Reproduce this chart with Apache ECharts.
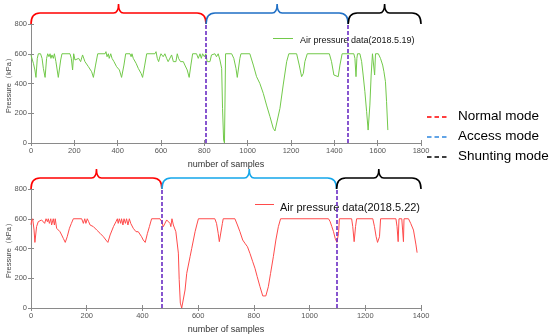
<!DOCTYPE html>
<html><head><meta charset="utf-8">
<script src="https://cdn.jsdelivr.net/npm/echarts@6/dist/echarts.min.js"></script>
<style>html,body{margin:0;padding:0;background:#fff}#c{width:550px;height:336px}</style>
</head><body><div id="c"></div>
<script>
// ---- Data: top chart (2018.5.19) ----
const samples1 = [0,3,11,18,23,29,34,44,51,57,65,72,77,83,88,92,97,103,108,115,126,137,143,180,186,192,197,203,211,220,229,238,249,265,280,288,298,308,342,346,351,357,361,368,374,383,395,408,418,429,437,457,462,466,472,485,495,508,515,525,534,572,577,583,589,595,600,603,610,618,626,633,641,649,657,669,675,681,690,703,710,721,730,738,746,764,772,780,786,792,800,807,813,826,833,841,849,856,864,872,880,884,889,893,898,926,936,946,952,958,964,969,1010,1026,1041,1056,1072,1087,1103,1118,1126,1133,1149,1164,1180,1190,1226,1238,1249,1257,1264,1275,1377,1387,1398,1418,1426,1436,1490,1495,1500,1504,1507,1518,1526,1533,1541,1549,1556,1564,1570,1576,1581,1586,1590,1603,1613,1623,1629,1636,1641,1647];
const pressure1 = [590,593,536,491,441,569,600,600,569,502,441,569,600,580,600,569,592,569,600,547,441,558,600,600,569,491,600,558,547,569,547,592,547,513,479,441,524,600,600,614,580,600,569,600,569,547,513,491,441,524,600,600,580,600,569,536,502,468,441,524,600,600,614,569,547,580,600,596,580,600,569,547,547,592,547,547,600,569,547,547,524,491,441,524,600,600,569,600,569,600,580,600,547,547,592,580,600,580,600,558,502,233,20,0,600,600,569,502,441,441,569,600,600,524,446,401,334,255,177,99,81,81,233,390,547,600,600,524,446,468,547,600,600,547,457,446,524,600,600,569,446,569,600,600,547,457,345,211,87,255,457,600,592,457,600,600,569,524,479,412,278,87];
const modeBounds1 = [808, 1464];
const xMax1 = 1800;

// ---- Data: bottom chart (2018.5.22) ----
const samples2 = [0,2,6,11,14,20,26,32,38,44,49,54,59,62,66,71,74,80,84,87,92,98,104,110,116,123,130,138,145,152,182,188,193,197,202,207,212,224,236,248,260,269,276,284,296,305,310,313,317,322,325,330,334,339,343,348,353,358,361,367,377,385,391,397,403,410,418,425,433,463,469,475,481,487,493,499,502,506,511,517,520,525,529,532,536,541,547,553,559,565,571,577,583,589,595,601,660,666,672,676,682,687,690,732,741,750,760,768,777,786,796,804,812,822,832,843,852,860,870,879,888,896,1068,1074,1080,1086,1092,1098,1104,1107,1151,1155,1160,1165,1169,1227,1233,1239,1244,1251,1255,1310,1314,1318,1321,1331,1334,1337,1339,1355,1363,1373,1379,1382,1386];
const pressure2 = [560,585,600,524,441,547,580,580,592,600,569,600,580,600,569,600,558,600,558,600,536,524,513,491,468,441,479,536,569,600,600,569,600,569,600,580,558,547,524,502,479,457,441,491,547,580,600,569,600,569,600,558,600,569,600,558,600,569,580,536,513,513,502,479,457,441,502,547,600,600,580,547,536,592,600,569,547,600,558,547,513,502,369,191,33,0,9,121,233,289,345,401,457,513,558,600,600,569,502,446,441,569,600,600,558,513,457,435,412,367,311,267,211,143,81,81,143,233,345,457,547,600,600,580,547,513,468,441,502,600,600,547,446,547,600,600,547,479,441,479,600,600,547,446,600,600,524,446,600,600,569,524,513,424,372];
const modeBounds2 = [470, 1097];
const xMax2 = 1400;

const seriesNames = ['Air pressure data(2018.5.19)', 'Air pressure data(2018.5.22)'];
const seriesColors = ['#72c94a', '#ff4b4b'];
const modeNames = ['Normal mode', 'Access mode', 'Shunting mode'];

// ---- Build ----
const chart = echarts.init(document.getElementById('c'), null, {renderer: 'canvas'});
const FONT = 'Liberation Sans, Arial, sans-serif';
const axisGray = '#8a8a8a';
const labelGray = '#555';

function pairs(xs, ys) { return xs.map((x, i) => [x, ys[i]]); }
function spans(bounds, max) {
  const b = [0].concat(bounds, [max]);
  const out = [];
  for (let i = 0; i < b.length - 1; i++) out.push([b[i], b[i + 1], i]);
  return out;
}

const grids = [
  {left: 31, top: 24, width: 390, height: 119, containLabel: false, outerBoundsMode: 'none'},
  {left: 31, top: 189, width: 390, height: 119, containLabel: false, outerBoundsMode: 'none'}
];
const braceColors = [
  ['#ff0000', '#1f6fc5', '#000000'],
  ['#ff0000', '#14a6ea', '#000000']
];
const plain = v => String(v);

function xAxes(gi, max) {
  const base = {
    gridIndex: gi, type: 'value', min: 0, max: max, interval: 200,
    axisLine: {lineStyle: {color: axisGray, width: 1}},
    axisTick: {inside: true, length: 3, lineStyle: {color: axisGray}},
    splitLine: {show: false}
  };
  return [
    Object.assign({}, base, {
      position: 'bottom',
      axisLabel: {color: labelGray, fontSize: 7.5, fontFamily: FONT, margin: 4, formatter: plain},
      name: 'number of samples', nameLocation: 'middle', nameGap: 17, nameMoveOverlap: false,
      nameTextStyle: {color: '#333', fontSize: 9, fontFamily: FONT}
    }),
    Object.assign({}, base, {position: 'top', axisLabel: {show: false}})
  ];
}
function yAxes(gi) {
  const base = {
    gridIndex: gi, type: 'value', min: 0, max: 800, interval: 200,
    axisLine: {show: true, lineStyle: {color: axisGray, width: 1}},
    axisTick: {show: true, inside: true, length: 3, lineStyle: {color: axisGray}},
    splitLine: {show: false}
  };
  return [
    Object.assign({}, base, {
      position: 'left',
      axisLabel: {color: labelGray, fontSize: 7.5, fontFamily: FONT, margin: 4, formatter: plain},
      name: 'Pressure（kPa）', nameLocation: 'middle', nameGap: 18, nameMoveOverlap: false,
      nameTextStyle: {color: '#444', fontSize: 7.5, fontFamily: FONT}
    }),
    Object.assign({}, base, {position: 'right', axisLabel: {show: false}})
  ];
}

function braceSeries(gi, bounds, max) {
  return {
    type: 'custom', name: 'braces' + gi, xAxisIndex: gi * 2, yAxisIndex: gi * 2, clip: false, silent: true,
    data: spans(bounds, max),
    renderItem: function (params, api) {
      const s = api.value(0), e = api.value(1), idx = api.value(2);
      const a = api.coord([s, 800]);
      const b = api.coord([e, 800]);
      const x0 = a[0], x1 = b[0], yb = a[1];
      const yh = yb - 11, yt = yb - 20;
      const xm = (x0 + x1) / 2;
      const r = 9;
      const path = 'M' + x0 + ',' + yb +
        ' Q' + x0 + ',' + yh + ' ' + (x0 + r) + ',' + yh +
        ' L' + (xm - 5) + ',' + yh +
        ' Q' + xm + ',' + yh + ' ' + xm + ',' + yt +
        ' Q' + xm + ',' + yh + ' ' + (xm + 5) + ',' + yh +
        ' L' + (x1 - r) + ',' + yh +
        ' Q' + x1 + ',' + yh + ' ' + x1 + ',' + yb;
      return {
        type: 'path',
        shape: {pathData: path},
        style: {fill: 'none', stroke: braceColors[gi][idx], lineWidth: 1.6}
      };
    }
  };
}

function dataSeries(gi, name, data, color, bounds) {
  return {
    type: 'line', name: name, xAxisIndex: gi * 2, yAxisIndex: gi * 2,
    data: data, symbol: 'none', showSymbol: false, animation: false,
    color: color,
    lineStyle: {color: color, width: 1}, itemStyle: {color: color},
    markLine: {
      silent: true, symbol: ['none', 'none'], animation: false,
      label: {show: false},
      lineStyle: {color: '#6a2cc4', type: [4, 2], width: 1.6},
      data: bounds.map(v => ({xAxis: v}))
    }
  };
}

const legendYs = [117, 137, 157];
const legendColors = ['#ff0000', '#2e86de', '#000000'];
const graphics = [];
modeNames.forEach((n, i) => {
  graphics.push({
    type: 'line', shape: {x1: 427, y1: legendYs[i], x2: 449, y2: legendYs[i]},
    style: {stroke: legendColors[i], lineWidth: 1.5, lineDash: [4.5, 3]}
  });
  graphics.push({
    type: 'text', left: 458, top: legendYs[i] - 8,
    style: {text: n, fontSize: 13.5, fontFamily: FONT, fill: '#000'}
  });
});
// legend line samples (drawn as plain strokes so their colour is exact)
const legendSamples = [
  {x1: 273, x2: 293, y: 38.5, color: seriesColors[0]},
  {x1: 255, x2: 274, y: 204.5, color: seriesColors[1]}
];
legendSamples.forEach(s => {
  graphics.push({
    type: 'line', shape: {x1: s.x1, y1: s.y, x2: s.x2, y2: s.y},
    style: {stroke: s.color, lineWidth: 1}, z: 100
  });
});

function legendFor(i, left, top, w, fs) {
  return {
    data: [seriesNames[i]], left: left, top: top, icon: 'rect', itemWidth: w, itemHeight: 1,
    itemStyle: {opacity: 0}, lineStyle: {opacity: 0},
    selectedMode: false,
    textStyle: {fontSize: fs, fontFamily: FONT, color: '#111'}
  };
}

chart.setOption({
  animation: false,
  grid: grids,
  xAxis: xAxes(0, xMax1).concat(xAxes(1, xMax2)),
  yAxis: yAxes(0).concat(yAxes(1)),
  legend: [legendFor(0, 270, 31, 20, 9), legendFor(1, 251, 197, 19, 11)],
  series: [
    dataSeries(0, seriesNames[0], pairs(samples1, pressure1), seriesColors[0], modeBounds1),
    dataSeries(1, seriesNames[1], pairs(samples2, pressure2), seriesColors[1], modeBounds2),
    braceSeries(0, modeBounds1, xMax1),
    braceSeries(1, modeBounds2, xMax2)
  ],
  graphic: graphics
});
</script>
</body></html>
